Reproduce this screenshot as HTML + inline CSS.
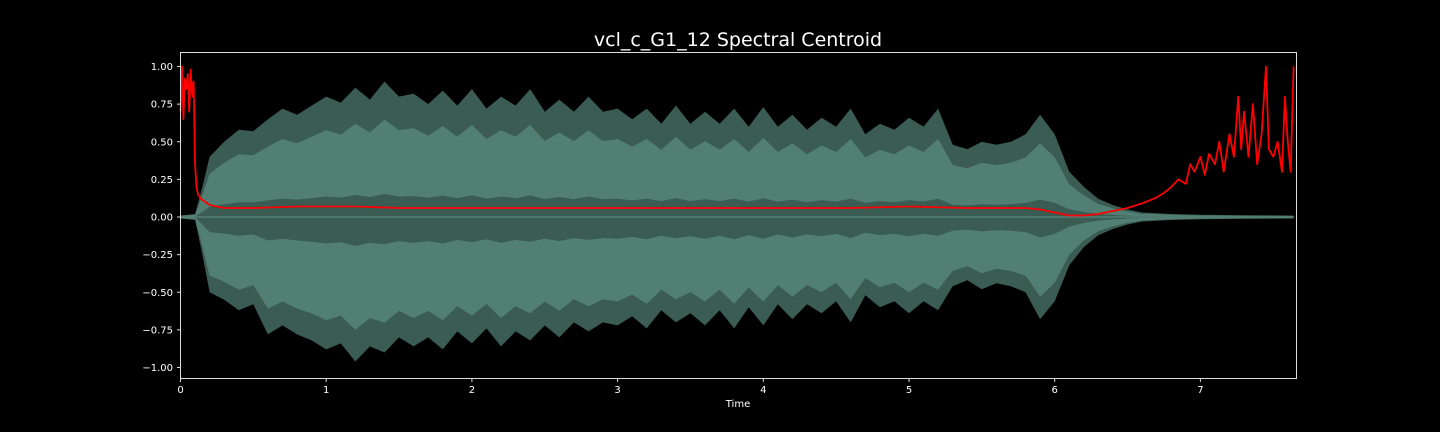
<!DOCTYPE html>
<html><head><meta charset="utf-8"><style>
html,body{margin:0;padding:0;background:#000;}
svg{display:block;font-family:"DejaVu Sans","Liberation Sans",sans-serif;}
</style></head><body>
<svg id="chart" width="1440" height="432" viewBox="0 0 1440 432">
<rect width="1440" height="432" fill="#000"/>
<text x="738" y="46" fill="#fff" font-size="19" text-anchor="middle">vcl_c_G1_12 Spectral Centroid</text>
<g id="plot"></g>
<rect x="180.5" y="52.5" width="1116" height="326" fill="none" stroke="#ddd" stroke-width="1"/>
<g id="xticks"></g>
<g id="yticks"></g>
<text x="738" y="407" fill="#fff" font-size="10" text-anchor="middle">Time</text>
</svg>
<script>
const envTimes=[0,0.1,0.15,0.2,0.3,0.4,0.5,0.6,0.7,0.8,0.9,1.0,1.1,1.2,1.3,1.4,1.5,1.6,1.7,1.8,1.9,2.0,2.1,2.2,2.3,2.4,2.5,2.6,2.7,2.8,2.9,3.0,3.1,3.2,3.3,3.4,3.5,3.6,3.7,3.8,3.9,4.0,4.1,4.2,4.3,4.4,4.5,4.6,4.7,4.8,4.9,5.0,5.1,5.2,5.3,5.4,5.5,5.6,5.7,5.8,5.9,6.0,6.1,6.2,6.3,6.4,6.5,6.6,6.8,7.0,7.3,7.64];
const envUpper=[0.01,0.02,0.2,0.4,0.5,0.58,0.57,0.65,0.72,0.68,0.74,0.8,0.76,0.86,0.78,0.9,0.8,0.82,0.75,0.84,0.74,0.85,0.72,0.8,0.74,0.85,0.7,0.78,0.7,0.8,0.7,0.72,0.65,0.72,0.62,0.74,0.62,0.7,0.62,0.72,0.6,0.73,0.6,0.68,0.58,0.66,0.6,0.72,0.55,0.62,0.58,0.66,0.6,0.72,0.48,0.45,0.5,0.48,0.5,0.55,0.68,0.55,0.3,0.2,0.12,0.08,0.05,0.03,0.02,0.015,0.012,0.01];
const envLower=[0.01,0.02,0.25,0.5,0.55,0.62,0.58,0.78,0.72,0.78,0.82,0.88,0.84,0.96,0.86,0.9,0.8,0.86,0.8,0.88,0.76,0.84,0.74,0.86,0.76,0.82,0.72,0.8,0.7,0.76,0.7,0.72,0.66,0.74,0.62,0.7,0.64,0.72,0.62,0.74,0.6,0.72,0.58,0.68,0.58,0.64,0.56,0.7,0.52,0.6,0.56,0.64,0.56,0.62,0.46,0.42,0.48,0.44,0.46,0.5,0.68,0.56,0.32,0.2,0.12,0.08,0.05,0.03,0.02,0.015,0.012,0.01];
const centTimes=[0,0.01,0.02,0.03,0.04,0.05,0.06,0.07,0.08,0.09,0.1,0.11,0.12,0.14,0.17,0.2,0.25,0.3,0.5,0.8,1.0,1.2,1.5,1.8,2.0,2.3,2.6,3.0,3.4,3.8,4.2,4.6,5.0,5.4,5.8,5.9,6.0,6.1,6.2,6.3,6.4,6.5,6.6,6.7,6.75,6.8,6.85,6.9,6.93,6.96,7.0,7.03,7.06,7.1,7.13,7.16,7.2,7.23,7.26,7.28,7.3,7.33,7.36,7.39,7.42,7.45,7.47,7.5,7.53,7.56,7.58,7.6,7.62,7.64];
const centVals=[0.7,1.0,0.65,0.92,0.85,0.95,0.7,0.98,0.8,0.9,0.35,0.2,0.15,0.12,0.1,0.08,0.07,0.06,0.06,0.07,0.07,0.07,0.06,0.06,0.06,0.06,0.06,0.06,0.06,0.06,0.06,0.06,0.07,0.06,0.06,0.05,0.03,0.01,0.01,0.02,0.04,0.06,0.09,0.13,0.16,0.2,0.25,0.22,0.35,0.3,0.4,0.28,0.42,0.35,0.5,0.3,0.55,0.4,0.8,0.45,0.7,0.4,0.75,0.35,0.55,1.0,0.45,0.4,0.5,0.3,0.8,0.5,0.3,1.0];
const xTickVals=[0,1,2,3,4,5,6,7];
const yTickVals=[1,0.75,0.5,0.25,0,-0.25,-0.5,-0.75,-1];
const yTickLabels=["1.00","0.75","0.50","0.25","0.00","\u22120.25","\u22120.50","\u22120.75","\u22121.00"];

const NS="http://www.w3.org/2000/svg";
const X0=180.5,XS=145.7,Y0=217,YS=150.5;
const xs=t=>X0+t*XS, ys=v=>Y0-v*YS;
function el(tag,attrs,parent){const e=document.createElementNS(NS,tag);for(const k in attrs)e.setAttribute(k,attrs[k]);parent.appendChild(e);return e;}
const plot=document.getElementById('plot');
function band(fu,fl,fill,name){
  let d='';
  envTimes.forEach((t,i)=>{d+=(i?'L':'M')+xs(t).toFixed(1)+','+ys(envUpper[i]*fu).toFixed(1);});
  for(let i=envTimes.length-1;i>=0;i--){d+='L'+xs(envTimes[i]).toFixed(1)+','+ys(-envLower[i]*fl).toFixed(1);}
  const p=el('path',{d:d+'Z',fill:fill},plot);
  
  
}
band(1,1,'#3a5c53','waveform-envelope');
band(0.72,0.78,'#527f74','waveform-body');
band(0.17,0.2,'#3a5c53','waveform-core');
el('line',{x1:X0,x2:xs(7.64),y1:Y0,y2:Y0,stroke:'#527f74','stroke-width':1.5},plot);
let cd='';
centTimes.forEach((t,i)=>{cd+=(i?'L':'M')+xs(t).toFixed(1)+','+ys(centVals[i]).toFixed(1);});
const cl=el('path',{d:cd,fill:'none',stroke:'#ff0000','stroke-width':1.8,'stroke-linejoin':'round'},plot);



const xg=document.getElementById('xticks');
xTickVals.forEach(v=>{
  const x=xs(v);
  const l=el('line',{x1:x,x2:x,y1:378.5,y2:382,stroke:'#ddd'},xg);
  
  
  const t=el('text',{x:x,y:393,fill:'#fff','font-size':10,'text-anchor':'middle'},xg);
  t.textContent=String(v);
  
  
});
const yg=document.getElementById('yticks');
yTickVals.forEach((v,i)=>{
  const y=ys(v);
  const l=el('line',{x1:177,x2:180.5,y1:y,y2:y,stroke:'#ddd'},yg);
  
  
  const t=el('text',{x:173,y:y+3.5,fill:'#fff','font-size':10,'text-anchor':'end'},yg);
  t.textContent=yTickLabels[i];
  
  
});
</script>
</body></html>
